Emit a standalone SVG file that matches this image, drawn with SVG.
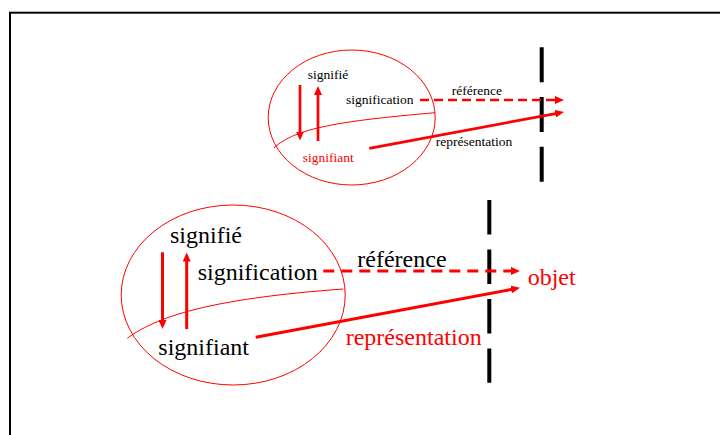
<svg xmlns="http://www.w3.org/2000/svg" width="720" height="435" viewBox="0 0 720 435">
<style>
  text { font-family: 'Liberation Serif', Tinos, 'Noto Serif', 'DejaVu Serif', FreeSerif, 'Nimbus Roman', 'Nimbus Roman No9 L', Times, serif; }
  .t { fill: #000; }
  .r { fill: #ff0000; }
  .s { font-size: 13.5px; }
  .b { font-size: 24px; }
  .ell { fill: none; stroke: #ff0000; stroke-width: 1; }
  .arr { fill: none; stroke: #ff0000; stroke-width: 3; marker-end: url(#ah); }
  .arrs { fill: none; stroke: #ff0000; stroke-width: 2.7; marker-end: url(#ah); }
  .dash { stroke-dasharray: 9 5; }
  .dashb { stroke-dasharray: 11 7; }
  .bar { stroke: #000; stroke-width: 4; fill: none; }
</style>
<defs>
  <marker id="ah" markerUnits="userSpaceOnUse" markerWidth="9" markerHeight="8" refX="2" refY="4" orient="auto">
    <path d="M0,0 L9,4 L0,8 z" fill="#ff0000"/>
  </marker>
</defs>
<rect x="0" y="0" width="720" height="435" fill="#fff"/>
<rect id="frame" x="10" y="12.7" width="730" height="440" fill="none" stroke="#000" stroke-width="2"/>

<g id="top-sign">
  <ellipse class="ell" cx="351.7" cy="117.5" rx="83.5" ry="67.5"/>
  <path class="ell" d="M274,148 C295,128 340,121 435,112.7"/>
</g>
<g id="top-signifie"><text class="t s" x="307.7" y="79">signifié</text></g>
<g id="top-signification"><text class="t s" x="346" y="104">signification</text></g>
<g id="top-signifiant"><text class="t s r" x="302.7" y="161.7">signifiant</text></g>
<g id="top-reference"><text class="t s" x="451.7" y="95">référence</text></g>
<g id="top-representation"><text class="t s" x="435.7" y="146">représentation</text></g>

<g id="bottom-sign">
  <ellipse class="ell" cx="233.2" cy="295" rx="112" ry="90"/>
  <path class="ell" d="M127.3,338.3 C160,314 220,298 343.3,289"/>
</g>
<g id="bottom-signifie"><text class="t b" x="170" y="242.7">signifié</text></g>
<g id="bottom-signification"><text class="t b" x="197.7" y="280">signification</text></g>
<g id="bottom-signifiant"><text class="t b" x="158.3" y="355">signifiant</text></g>
<g id="bottom-reference"><text class="t b" x="357.3" y="267.3">référence</text></g>
<g id="bottom-representation"><text class="t b r" x="345.7" y="345">représentation</text></g>
<g id="objet"><text class="t b r" x="527.7" y="285">objet</text></g>

<g id="barriers">
  <line class="bar" x1="541.7" y1="47.3" x2="541.7" y2="181.7" stroke-dasharray="35 14.7"/>
  <line class="bar" x1="489.3" y1="200" x2="489.3" y2="382.7" stroke-dasharray="34.5 15"/>
</g>

<g id="connectors">
  <line class="arrs" x1="300" y1="85" x2="300" y2="133.5"/>
  <line class="arrs" x1="318" y1="141" x2="318" y2="93"/>
  <line class="arrs dash" x1="420" y1="100" x2="557" y2="100"/>
  <line class="arrs" x1="369.3" y1="148.3" x2="557.1" y2="113.3"/>

  <line class="arr" x1="162.5" y1="252.3" x2="162.5" y2="322"/>
  <line class="arr" x1="186.7" y1="329" x2="186.7" y2="259.5"/>
  <line class="arr dashb" x1="323.3" y1="271" x2="513" y2="271"/>
  <line class="arr" x1="255.7" y1="337.3" x2="513.1" y2="289.1"/>
</g>
</svg>
